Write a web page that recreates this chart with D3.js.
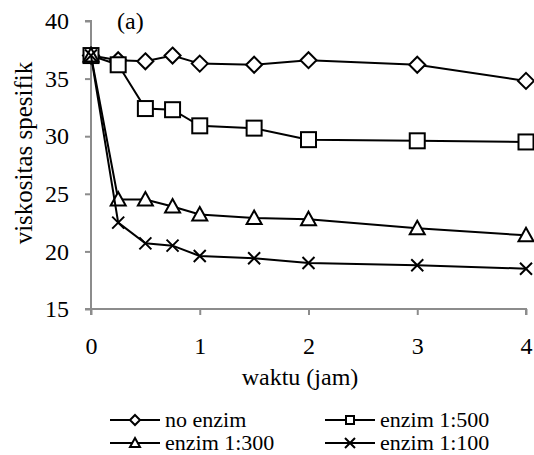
<!DOCTYPE html>
<html><head><meta charset="utf-8">
<script src="https://cdn.jsdelivr.net/npm/d3@7/dist/d3.min.js"></script>
<style>body{margin:0;background:#fff}svg{display:block}</style>
</head><body>
<script>
const times = [0, 0.25, 0.5, 0.75, 1, 1.5, 2, 3, 4];
const noEnzim   = [37, 36.6, 36.5, 37.0, 36.3, 36.2, 36.6, 36.2, 34.8];
const enzim500  = [37, 36.2, 32.4, 32.3, 30.9, 30.7, 29.7, 29.6, 29.5];
const enzim300  = [37, 24.5, 24.5, 23.9, 23.2, 22.9, 22.8, 22.0, 21.4];
const enzim100  = [37, 22.5, 20.7, 20.5, 19.6, 19.4, 19.0, 18.8, 18.5];
const seriesNames = ["no enzim", "enzim 1:500", "enzim 1:300", "enzim 1:100"];
const seriesMarkers = ["diamond", "square", "triangle", "cross"];
const xTicks = [0, 1, 2, 3, 4];
const yTicks = [15, 20, 25, 30, 35, 40];

const FONT = "Liberation Serif";
const W = 534, H = 455;
const svg = d3.select("body").append("svg").attr("width", W).attr("height", H).attr("font-family", FONT);
const x = d3.scaleLinear().domain([0, 4]).range([91, 526]);
const y = d3.scaleLinear().domain([15, 40]).range([309, 21]);
const axisColor = "#8c8c8c";

// axes
const gx = svg.append("g").attr("transform", `translate(0,${y(15)})`)
  .call(d3.axisBottom(x).tickValues(xTicks).tickSize(6).tickPadding(22).tickFormat(d3.format("d")));
const gy = svg.append("g").attr("transform", `translate(${x(0)},0)`)
  .call(d3.axisLeft(y).tickValues(yTicks).tickSize(6).tickPadding(16).tickFormat(d3.format("d")));
[gx, gy].forEach(g => {
  g.attr("font-family", FONT);
  g.select(".domain").attr("stroke", axisColor).attr("stroke-width", 2);
  g.selectAll(".tick line").attr("stroke", axisColor).attr("stroke-width", 2);
  g.selectAll(".tick text").attr("font-size", 24).attr("font-family", FONT).attr("fill", "#000");
});
gx.select(".domain").attr("d", `M${x(0)},6V0H${x(4)}V6`);
gy.select(".domain").attr("d", `M-6,${y(40)}H0V${y(15)}H-6`);

// titles
svg.append("text").attr("x", 300).attr("y", 385).attr("text-anchor", "middle").attr("font-family", FONT).attr("font-size", 24).text("waktu (jam)");
svg.append("text").attr("transform", "translate(32,153) rotate(-90)").attr("text-anchor", "middle").attr("font-family", FONT).attr("font-size", 25).text("viskositas spesifik");
svg.append("text").attr("x", 117).attr("y", 29).attr("font-family", FONT).attr("font-size", 24).text("(a)");

function marker(g, type, cx, cy, s) {
  if (type === "diamond") {
    g.append("path").attr("d", `M${cx},${cy - s}L${cx + s},${cy}L${cx},${cy + s}L${cx - s},${cy}Z`)
      .attr("fill", "#fff").attr("stroke", "#000").attr("stroke-width", 2);
  } else if (type === "square") {
    g.append("rect").attr("x", cx - s).attr("y", cy - s).attr("width", 2 * s).attr("height", 2 * s)
      .attr("fill", "#fff").attr("stroke", "#000").attr("stroke-width", 2);
  } else if (type === "triangle") {
    g.append("path").attr("d", `M${cx},${cy - s}L${cx + s},${cy + s * 0.8}L${cx - s},${cy + s * 0.8}Z`)
      .attr("fill", "#fff").attr("stroke", "#000").attr("stroke-width", 2);
  } else {
    g.append("path").attr("d", `M${cx - s},${cy - s}L${cx + s},${cy + s}M${cx - s},${cy + s}L${cx + s},${cy - s}`)
      .attr("fill", "none").attr("stroke", "#000").attr("stroke-width", 2);
  }
}

const allSeries = [noEnzim, enzim500, enzim300, enzim100];
const markerSize = [8, 7.5, 7.5, 6];
const line = d3.line().x((d, i) => x(times[i])).y(d => y(d));
allSeries.forEach((vals, si) => {
  const g = svg.append("g");
  g.append("path").attr("d", line(vals)).attr("fill", "none").attr("stroke", "#000").attr("stroke-width", 2);
  vals.forEach((v, i) => marker(g, seriesMarkers[si], x(times[i]), y(v), markerSize[si]));
});

// legend
const legendPos = [[110, 420], [325, 420], [110, 443], [325, 443]];
const legendMarkerSize = [5, 4, 5, 5];
seriesNames.forEach((name, i) => {
  const [lx, ly] = legendPos[i];
  const g = svg.append("g");
  g.append("line").attr("x1", lx).attr("x2", lx + 50).attr("y1", ly).attr("y2", ly).attr("stroke", "#000").attr("stroke-width", 2);
  marker(g, seriesMarkers[i], lx + 25, ly, legendMarkerSize[i]);
  g.append("text").attr("x", lx + 55).attr("y", ly + 7).attr("font-family", FONT).attr("font-size", 22).text(name);
});
</script>
</body></html>
